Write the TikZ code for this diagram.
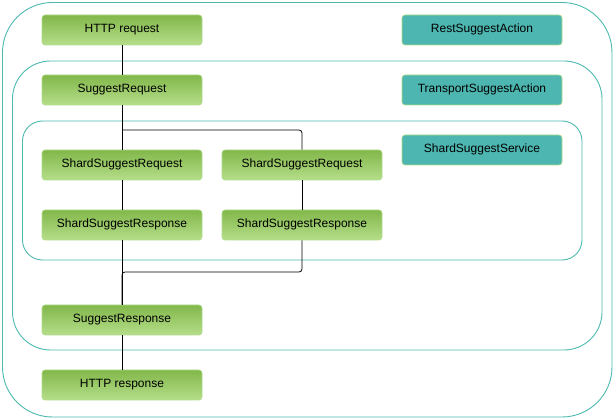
\documentclass[tikz,border=0pt]{standalone}
\usepackage{fontspec}
\setmainfont{Liberation Sans}
\usetikzlibrary{calc}
\definecolor{gtop}{HTML}{82B74A}
\definecolor{gbot}{HTML}{B5DE8A}
\definecolor{teal1}{HTML}{4DB6B0}
\definecolor{tealline}{HTML}{4DBAB0}
\definecolor{boxborder}{HTML}{B0DC8C}
\begin{document}
\begin{tikzpicture}[x=1pt,y=-1pt,
  gbox/.style={draw=boxborder,line width=0.6pt,rounded corners=3pt,top color=gtop,bottom color=gbot,
    minimum width=160pt,minimum height=30pt,inner sep=0pt,font=\fontsize{12}{14}\selectfont,text depth=0pt},
  tbox/.style={draw=boxborder,line width=0.6pt,rounded corners=3pt,fill=teal1,
    minimum width=160pt,minimum height=30pt,inner sep=0pt,font=\fontsize{12}{14}\selectfont},
  frame/.style={draw=tealline,line width=0.9pt},
  conn/.style={draw=black,line width=0.8pt,rounded corners=3pt}]
\useasboundingbox (0,0) rectangle (614,419);
\fill[white] (0,0) rectangle (614,419);
% frames
\draw[frame,rounded corners=50pt] (2.5,2.5) rectangle (612,417);
\draw[frame,rounded corners=38pt] (12.5,61) rectangle (602,350);
\draw[frame,rounded corners=20pt] (22.5,121) rectangle (582,260);
% boxes
\node[gbox] (httpreq) at (122,30) {\raisebox{3.5pt}{HTTP request}};
\node[gbox] (sreq) at (122,90) {\raisebox{3.5pt}{SuggestRequest}};
\node[gbox] (ssreq1) at (122,165) {\raisebox{3.5pt}{ShardSuggestRequest}};
\node[gbox] (ssreq2) at (302,165) {\raisebox{3.5pt}{ShardSuggestRequest}};
\node[gbox] (ssresp1) at (122,225) {\raisebox{3.5pt}{ShardSuggestResponse}};
\node[gbox] (ssresp2) at (302,225) {\raisebox{3.5pt}{ShardSuggestResponse}};
\node[gbox] (sresp) at (122,320) {\raisebox{3.5pt}{SuggestResponse}};
\node[gbox] (httpresp) at (122,385) {\raisebox{3.5pt}{HTTP response}};
\node[tbox] (rest) at (482,30) {\raisebox{3.5pt}{RestSuggestAction}};
\node[tbox] (transport) at (482,90) {\raisebox{3.5pt}{TransportSuggestAction}};
\node[tbox] (service) at (482,150) {\raisebox{3.5pt}{ShardSuggestService}};
% connectors
\coordinate (split) at (122,130);
\coordinate (join) at (122,272);
\draw[conn] (httpreq.south) -- (sreq.north);
\draw[conn] (sreq.south) -- (ssreq1.north);
\draw[conn] (split) -| (ssreq2.north);
\draw[conn] (ssreq1.south) -- (ssresp1.north);
\draw[conn] (ssreq2.south) -- (ssresp2.north);
\draw[conn] (ssresp1.south) -- (sresp.north);
\draw[conn] (ssresp2.south) |- (join) -- (sresp.north);
\draw[conn] (sresp.south) -- (httpresp.north);
\end{tikzpicture}
\end{document}
